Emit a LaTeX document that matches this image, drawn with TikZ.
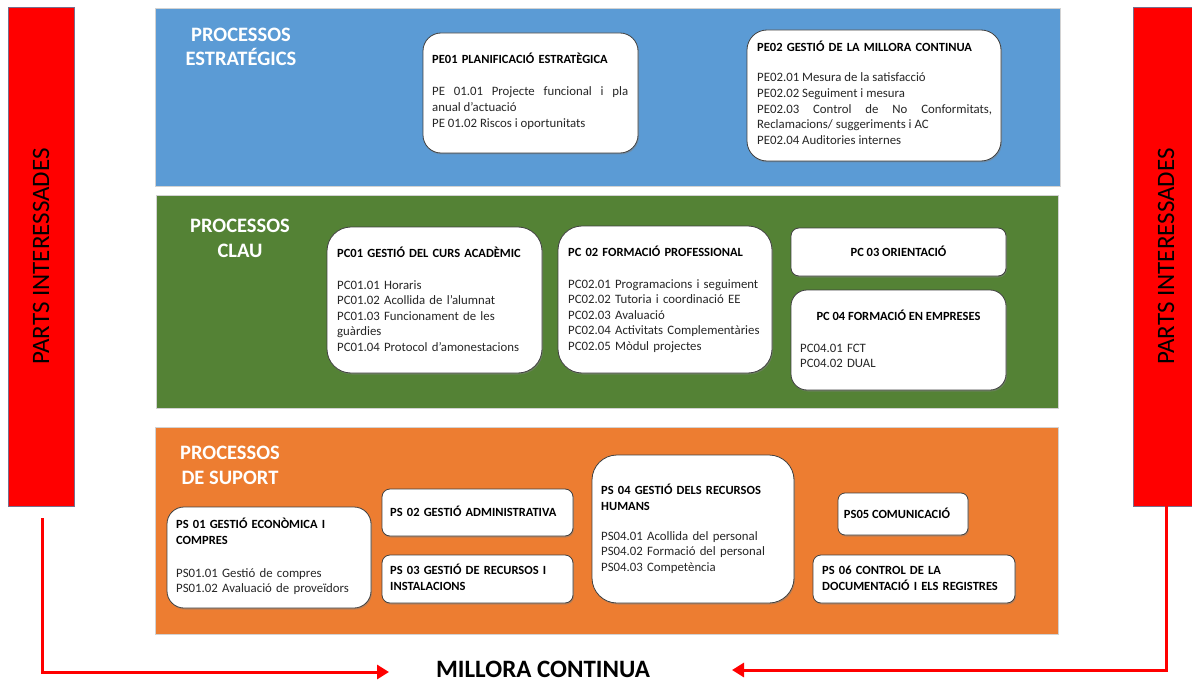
\documentclass[tikz,border=0pt]{standalone}
\usepackage{fontspec}
\setmainfont{Carlito}
\usetikzlibrary{arrows.meta,shadows}
\definecolor{pblue}{HTML}{5B9BD5}
\definecolor{pgreen}{HTML}{548235}
\definecolor{porange}{HTML}{ED7D31}
\definecolor{pred}{HTML}{FF0000}
\definecolor{pedge}{RGB}{120,110,140}
\tikzset{
  panel/.style={draw=gray!35, line width=0.8pt, inner sep=0pt},
  sidebar/.style={fill=pred, draw=pedge, line width=0.6pt, inner sep=0pt, minimum width=66pt, minimum height=499pt},
  sidetext/.style={font=\fontsize{25}{28}\selectfont, rotate=90, inner sep=0pt},
  pbox/.style={draw=black!75, line width=0.8pt, fill=white, inner sep=0pt,
     drop shadow={shadow xshift=1pt, shadow yshift=-1.5pt, opacity=0.45}},
  sectitle/.style={font=\bfseries\fontsize{20.5}{24.5}\selectfont, text=white, align=center, inner sep=0pt},
  btitle/.style={font=\bfseries\fontsize{12.5}{16.5}\selectfont, anchor=base west, inner sep=0pt, text width=205pt, align=left},
  ctitle/.style={font=\bfseries\fontsize{12.5}{16.5}\selectfont, anchor=base, inner sep=0pt},
  btext/.style={font=\fontsize{12.8}{15.6}\selectfont, anchor=base west, inner sep=0pt, text width=220pt, align=left, text=black!85},
  redarrow/.style={draw=pred, line width=3pt, -{Triangle[length=12pt,width=14pt]}}
}
\begin{document}
\begin{tikzpicture}[x=1pt,y=-1pt]
\clip (0,0) rectangle (1192,682);
\fill[white] (0,0) rectangle (1192,682);

% side bars
\node[sidebar] (lbar) at (41,256.5) {};
\node[sidetext] (ltxt) at (lbar.center) {PARTS INTERESSADES};
\node[sidebar] (rbar) at (1166,256.5) {};
\node[sidetext] (rtxt) at (rbar.center) {PARTS INTERESSADES};

% panels
\node[panel, fill=pblue, minimum width=905pt, minimum height=178pt] (pest) at (607.5,97) {};
\node[panel, fill=pgreen, minimum width=902pt, minimum height=213pt] (pclau) at (607,301.5) {};
\node[panel, fill=porange, minimum width=903pt, minimum height=207pt] (psup) at (606.5,530.5) {};

\node[sectitle] (test) at (241,47) {PROCESSOS\\ESTRATÉGICS};
\node[sectitle] (tclau) at (240,238.5) {PROCESSOS\\CLAU};
\node[sectitle] (tsup) at (230,465.5) {PROCESSOS\\DE SUPORT};

% PE boxes
\node[pbox, minimum width=215pt, minimum height=120pt, rounded corners=18pt] (pe01) at (530.5,93) {};
\node[btitle] (pe01t) at (432,64) {PE01 PLANIFICACIÓ ESTRATÈGICA};
\node[btext, text width=196pt, align=justify] (pe01b) at (432,96) {PE 01.01 Projecte funcional i pla\linebreak anual d'actuació\\PE 01.02 Riscos i oportunitats};

\node[pbox, minimum width=254pt, minimum height=131pt, rounded corners=20pt] (pe02) at (874,95.5) {};
\node[btitle, text width=235pt] (pe02t) at (757,52) {PE02 GESTIÓ DE LA MILLORA CONTINUA};
\node[btext, text width=235pt, align=justify] (pe02b) at (757,82) {PE02.01 Mesura de la satisfacció\\PE02.02 Seguiment i mesura\\PE02.03 Control de No Conformitats,\linebreak Reclamacions/ suggeriments i AC\\PE02.04 Auditories internes};

% PC boxes
\node[pbox, minimum width=215pt, minimum height=146pt, rounded corners=24pt] (pc01) at (434.5,300) {};
\node[btitle] (pc01t) at (337,257) {PC01 GESTIÓ DEL CURS ACADÈMIC};
\node[btext] (pc01b) at (337,289) {PC01.01 Horaris\\PC01.02 Acollida de l'alumnat\\PC01.03 Funcionament de les\\guàrdies\\PC01.04 Protocol d'amonestacions};

\node[pbox, minimum width=214pt, minimum height=147pt, rounded corners=24pt] (pc02) at (665,299.5) {};
\node[btitle] (pc02t) at (568,256) {PC 02 FORMACIÓ PROFESSIONAL};
\node[btext] (pc02b) at (568,288) {PC02.01 Programacions i seguiment\\PC02.02 Tutoria i coordinació EE\\PC02.03 Avaluació\\PC02.04 Activitats Complementàries\\PC02.05 Mòdul projectes};

\node[pbox, minimum width=215pt, minimum height=48pt, rounded corners=8pt] (pc03) at (898.5,252) {};
\node[ctitle] (pc03t) at (898.5,256) {PC 03 ORIENTACIÓ};

\node[pbox, minimum width=215pt, minimum height=100pt, rounded corners=16pt] (pc04) at (898.5,340) {};
\node[ctitle] (pc04t) at (898.5,320) {PC 04 FORMACIÓ EN EMPRESES};
\node[btext, text width=190pt] (pc04b) at (800,352) {PC04.01 FCT\\PC04.02 DUAL};

% PS boxes
\node[pbox, minimum width=204pt, minimum height=101pt, rounded corners=17pt] (ps01) at (269,557.5) {};
\node[btitle] (ps01t) at (176,528) {PS 01 GESTIÓ ECONÒMICA I\\COMPRES};
\node[btext] (ps01b) at (176,577) {PS01.01 Gestió de compres\\PS01.02 Avaluació de proveïdors};

\node[pbox, minimum width=191pt, minimum height=47pt, rounded corners=8pt] (ps02) at (477.5,512.5) {};
\node[btitle] (ps02t) at (390,516) {PS 02 GESTIÓ ADMINISTRATIVA};

\node[pbox, minimum width=191pt, minimum height=48pt, rounded corners=8pt] (ps03) at (477.5,579) {};
\node[btitle] (ps03t) at (390,574) {PS 03 GESTIÓ DE RECURSOS I\\INSTALACIONS};

\node[pbox, minimum width=202pt, minimum height=148pt, rounded corners=25pt] (ps04) at (693,529) {};
\node[btitle] (ps04t) at (601,494) {PS 04 GESTIÓ DELS RECURSOS\\HUMANS};
\node[btext] (ps04b) at (601,540) {PS04.01 Acollida del personal\\PS04.02 Formació del personal\\PS04.03 Competència};

\node[pbox, minimum width=130pt, minimum height=42pt, rounded corners=7pt] (ps05) at (903,514) {};
\node[ctitle] (ps05t) at (897,518) {PS05 COMUNICACIÓ};

\node[pbox, minimum width=202pt, minimum height=48pt, rounded corners=8pt] (ps06) at (914,579) {};
\node[btitle] (ps06t) at (822,574) {PS 06 CONTROL DE LA\\DOCUMENTACIÓ I ELS REGISTRES};

% millora continua
\node[font=\bfseries\fontsize{25}{28}\selectfont, inner sep=0pt] (millora) at (543,669) {MILLORA CONTINUA};
\coordinate (lstart) at (42,518);
\coordinate (ltip) at (389,672);
\coordinate (rstart) at (1166,506);
\coordinate (rtip) at (732,670);
\draw[redarrow] (lstart) |- (ltip);
\draw[redarrow] (rstart) |- (rtip);
\end{tikzpicture}
\end{document}
